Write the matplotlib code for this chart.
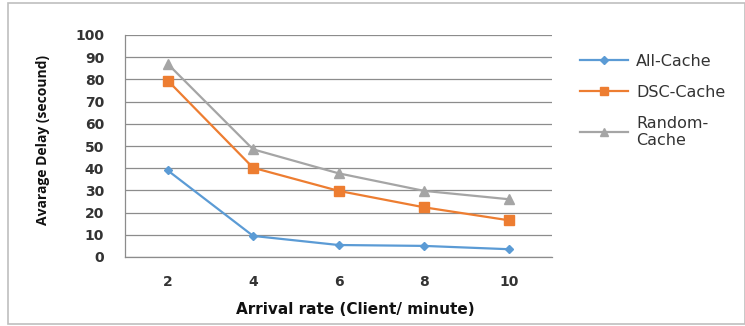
import matplotlib
matplotlib.use("Agg")
import matplotlib.pyplot as plt
from matplotlib.patches import Rectangle

rates = [2, 4, 6, 8, 10]
all_cache = [39, 9.5, 5.4, 5, 3.5]
dsc_cache = [79.5, 40.2, 29.8, 22.4, 16.5]
random_cache = [87, 48.5, 37.7, 29.8, 26]
series_names = ["All-Cache", "DSC-Cache", "Random-\nCache"]
y_ticks = list(range(0, 101, 10))

W, H = 745, 326
fig = plt.figure(figsize=(W / 100, H / 100), dpi=100)
fig.patch.set_facecolor("white")

# outer chart border
fig.add_artist(Rectangle((8 / W, 2 / H), (W - 8) / W, (H - 5) / H,
                         transform=fig.transFigure, fill=False,
                         edgecolor="#BFBFBF", linewidth=1.2))

ax = fig.add_axes([125 / W, 1 - 257 / H, (552 - 125) / W, (257 - 35) / H])
tick_font = "DejaVu Sans"
text_color = "#333333"

ax.plot(rates, all_cache, color="#5B9BD5", marker="D", markersize=4.5, linewidth=1.6,
        label=series_names[0])
ax.plot(rates, dsc_cache, color="#ED7D31", marker="s", markersize=7, linewidth=1.6,
        label=series_names[1])
ax.plot(rates, random_cache, color="#A5A5A5", marker="^", markersize=7, linewidth=1.6,
        label=series_names[2])

ax.set_xlim(1, 11)
ax.set_ylim(0, 100)
ax.set_xticks(rates)
ax.set_yticks(y_ticks)
ax.grid(axis="y", color="#8C8C8C", linewidth=0.9)
ax.set_axisbelow(True)
for side in ["top", "right"]:
    ax.spines[side].set_visible(False)
for side in ["left", "bottom"]:
    ax.spines[side].set_color("#8C8C8C")
    ax.spines[side].set_linewidth(0.9)
ax.tick_params(axis="both", length=0, labelsize=10, labelcolor=text_color)
ax.tick_params(axis="y", pad=15)
ax.tick_params(axis="x", pad=13)
for lbl in ax.get_xticklabels() + ax.get_yticklabels():
    lbl.set_fontfamily(tick_font)
    lbl.set_fontweight("bold")

ax.set_xlabel("Arrival rate (Client/ minute)", fontsize=11, fontweight="bold",
              family=tick_font, color="#111111")
ax.xaxis.set_label_coords(0.54, -0.203)
ax.set_ylabel("Avarage Delay (secound)", fontsize=10, fontweight="bold",
              family="Open Sans", color="#111111")
ax.yaxis.set_label_coords(-0.175, 0.527)

leg = ax.legend(loc="upper left", bbox_to_anchor=(1.033, 0.98), frameon=False,
                prop={"family": tick_font, "size": 11.5}, handlelength=3.0,
                labelspacing=1.0, handletextpad=0.5, markerscale=0.8)
for t in leg.get_texts():
    t.set_color(text_color)

fig.savefig("out.png", dpi=100, facecolor="white")
